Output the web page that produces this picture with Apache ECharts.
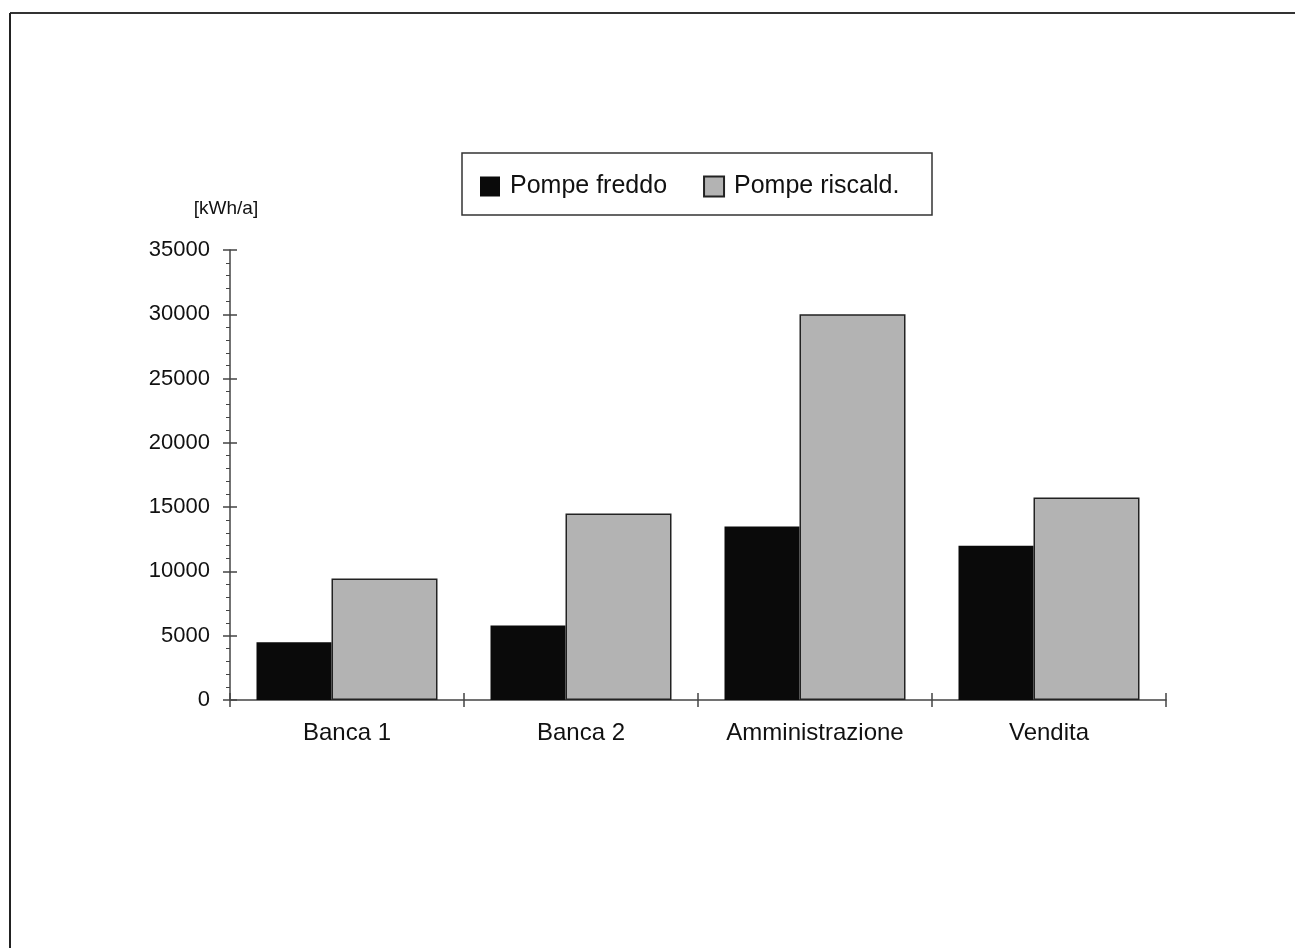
<!DOCTYPE html>
<html>
<head>
<meta charset="utf-8">
<script src="https://cdn.jsdelivr.net/npm/echarts@6/dist/echarts.min.js"></script>
<style>
  html, body { margin: 0; padding: 0; background: #fff; }
  #chart { width: 1295px; height: 948px; }
</style>
</head>
<body>
<div id="chart"></div>
<script>
// data
const categories = ['Banca 1', 'Banca 2', 'Amministrazione', 'Vendita'];
const seriesNames = ['Pompe freddo', 'Pompe riscald.'];
const pompeFreddo = [4500, 5800, 13500, 12000];
const pompeRiscald = [9450, 14500, 30000, 15750];
const yTicks = [0, 5000, 10000, 15000, 20000, 25000, 30000, 35000];

const font = '"Liberation Sans", Arial, sans-serif';
const axisColor = '#444';

const chart = echarts.init(document.getElementById('chart'));

const option = {
    animation: false,
    backgroundColor: '#fff',
    textStyle: { fontFamily: font, color: '#111' },
    grid: { left: 230, right: 129, top: 250, bottom: 248, containLabel: false },
    legend: {
        left: 475, top: 169,
        itemWidth: 20, itemHeight: 20, itemGap: 36,
        icon: 'rect',
        textStyle: { fontSize: 25, color: '#111', fontFamily: font, padding: [0, 0, 0, 5] },
        data: seriesNames
    },
    graphic: [
        // page frame
        { type: 'line', shape: { x1: 10, y1: 13, x2: 1295, y2: 13 }, style: { stroke: '#333', lineWidth: 2 } },
        { type: 'line', shape: { x1: 10, y1: 13, x2: 10, y2: 948 }, style: { stroke: '#222', lineWidth: 2 } },
        // legend box
        { type: 'rect', shape: { x: 462, y: 153, width: 470, height: 62 }, style: { fill: 'none', stroke: '#333', lineWidth: 1.5 }, z: -1 }
    ],
    xAxis: [{
        type: 'category',
        data: categories,
        position: 'bottom',
        boundaryGap: true,
        axisLine: { lineStyle: { color: axisColor, width: 1.5 } },
        axisTick: { show: true, length: 7, lineStyle: { color: axisColor, width: 1.5 } },
        axisLabel: { fontSize: 24, color: '#111', margin: 21, fontFamily: font },
        splitLine: { show: false }
    }, {
        type: 'category',
        data: categories,
        position: 'bottom',
        boundaryGap: true,
        axisLine: { show: false },
        axisTick: { show: true, inside: true, length: 7, lineStyle: { color: axisColor, width: 1.5 } },
        axisLabel: { show: false },
        splitLine: { show: false }
    }],
    yAxis: [{
        type: 'value',
        min: yTicks[0], max: yTicks[yTicks.length - 1], interval: 5000,
        position: 'left',
        name: '[kWh/a]',
        nameLocation: 'end',
        nameGap: 32,
        nameTextStyle: { fontSize: 19, color: '#111', fontFamily: font, padding: [0, 8, 0, 0] },
        axisLine: { show: true, lineStyle: { color: axisColor, width: 1.5 } },
        axisTick: { show: true, length: 7, lineStyle: { color: axisColor, width: 1.5 } },
        minorTick: { show: true, splitNumber: 5, length: 4, lineStyle: { color: axisColor, width: 1 } },
        axisLabel: { fontSize: 22, color: '#111', margin: 20, fontFamily: font, formatter: v => String(v) },
        splitLine: { show: false }
    }, {
        type: 'value',
        min: yTicks[0], max: yTicks[yTicks.length - 1], interval: 5000,
        position: 'left',
        axisLine: { show: false },
        axisTick: { show: true, inside: true, length: 7, lineStyle: { color: axisColor, width: 1.5 } },
        axisLabel: { show: false },
        splitLine: { show: false }
    }],
    series: [
        {
            name: seriesNames[0],
            type: 'bar',
            xAxisIndex: 0, yAxisIndex: 0,
            barWidth: 75,
            barGap: '0%',
            itemStyle: { color: '#0a0a0a' },
            data: pompeFreddo
        },
        {
            name: seriesNames[1],
            type: 'bar',
            xAxisIndex: 0, yAxisIndex: 0,
            barWidth: 106,
            barGap: '0%',
            itemStyle: { color: '#b3b3b3', borderColor: '#222', borderWidth: 1.5 },
            data: pompeRiscald
        }
    ]
};

chart.setOption(option);
window.addEventListener('resize', chart.resize);
</script>
</body>
</html>
